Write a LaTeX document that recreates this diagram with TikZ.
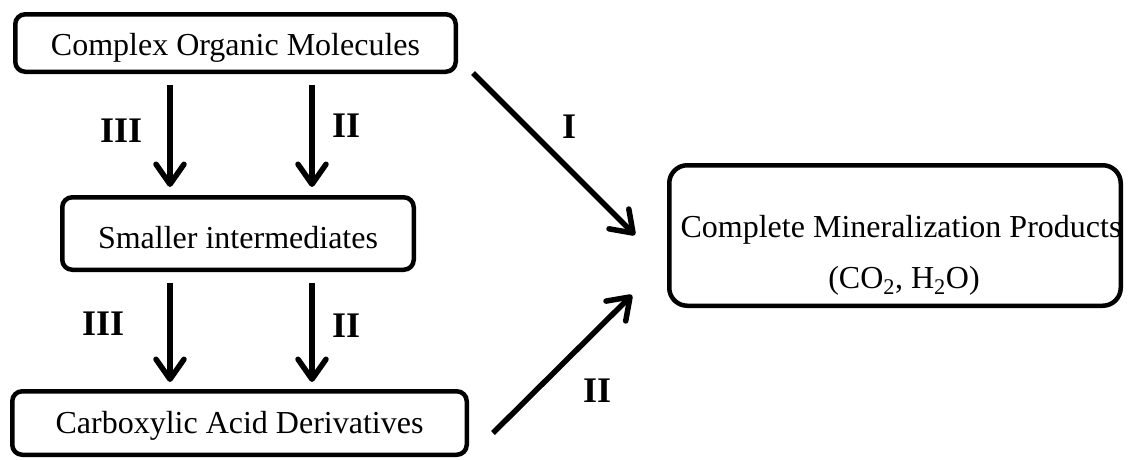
\documentclass[tikz,border=0pt]{standalone}
\usepackage{fontspec}
\setmainfont{Liberation Serif}
\usetikzlibrary{arrows.meta,calc}
\begin{document}
\begin{tikzpicture}[x=1pt,y=-1pt,
  box/.style={draw, line width=4.5pt, rounded corners=10pt, inner sep=0pt,
    font=\fontsize{32}{38}\selectfont, text depth=0pt},
  arr/.style={line width=5.5pt,
    -{Straight Barb[length=20pt,width=28pt,line cap=round,line join=round]}},
  lab/.style={font=\fontsize{36}{40}\selectfont\bfseries, anchor=base west, inner sep=0pt},
  txt/.style={font=\fontsize{32}{38}\selectfont, anchor=base, inner sep=0pt}]
\useasboundingbox (0,0) rectangle (1128,459);
% boxes
\node[box, minimum width=440.5pt, minimum height=57.5pt, text height=24pt] (b1) at (235.5,43) {Complex Organic Molecules\hspace{14pt}};
\node[box, minimum width=351.5pt, minimum height=72.5pt, text height=29pt] (b2) at (238,233.5) {Smaller intermediates\hspace{13pt}};
\node[box, minimum width=454.5pt, minimum height=63.5pt, text height=20pt] (b3) at (239.5,423) {Carboxylic Acid Derivatives\hspace{29pt}};
\node[box, rounded corners=18pt, minimum width=451.5pt, minimum height=140.5pt] (b4) at (895,235.5) {};
\node[txt] (t4a) at (901,237) {Complete Mineralization Products};
\node[txt] (t4b) at (904,288) {(CO\textsubscript{2}, H\textsubscript{2}O)};
% arrows
\coordinate (x3) at (170,0);
\coordinate (x2) at (312,0);
\draw[arr, shorten <=11pt, shorten >=8pt] (b1.south -| x3) -- (b2.north -| x3);
\draw[arr, shorten <=11pt, shorten >=8pt] (b1.south -| x2) -- (b2.north -| x2);
\draw[arr, shorten <=11pt, shorten >=7pt] (b2.south -| x3) -- (b3.north -| x3);
\draw[arr, shorten <=11pt, shorten >=7pt] (b2.south -| x2) -- (b3.north -| x2);
\draw[arr] ($(b1.south east)+(15,-1)$) -- ($(b4.west)+(-32,-0.5)$);
\draw[arr] ($(b3.east)+(24,10)$) -- ($(b4.west)+(-35,59.5)$);
% labels
\node[lab] (l1) at (100,142) {III};
\node[lab] (l2) at (332,137) {II};
\node[lab] (l3) at (82,335) {III};
\node[lab] (l4) at (332,337) {II};
\node[lab] (l5) at (562,138) {I};
\node[lab] (l6) at (583,402) {II};
\end{tikzpicture}
\end{document}
